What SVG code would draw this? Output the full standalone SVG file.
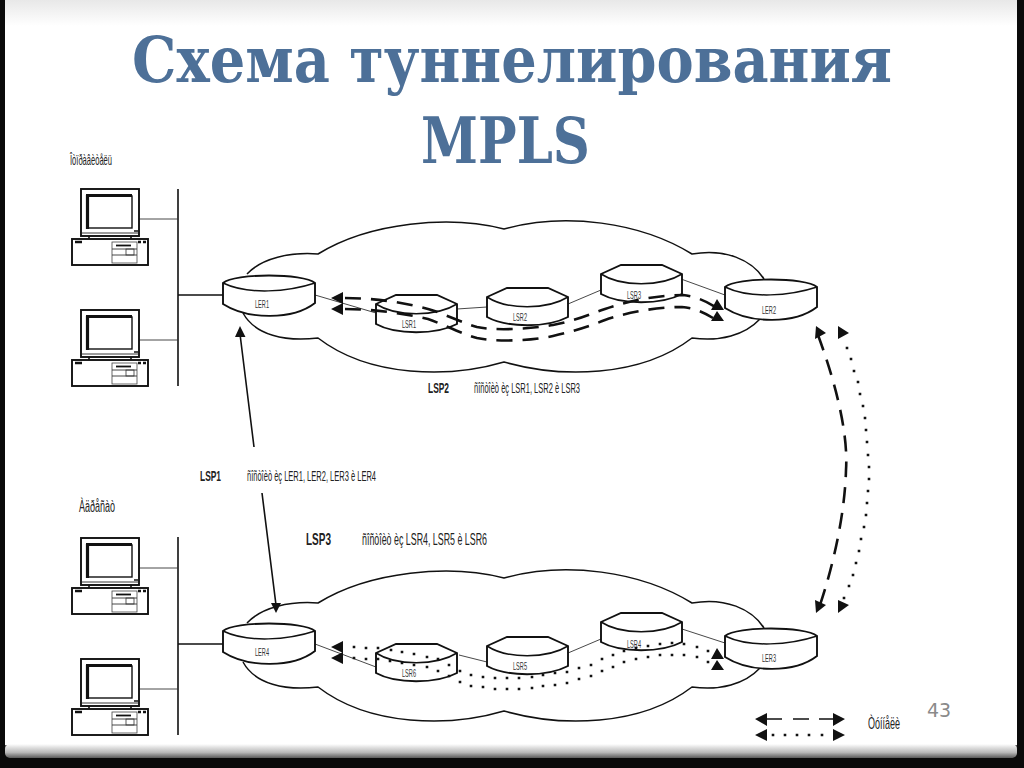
<svg xmlns="http://www.w3.org/2000/svg" width="1024" height="768" viewBox="0 0 1024 768">
<style>
.t{font-family:"Liberation Sans",Arial,sans-serif;fill:#222}
.small{font-size:11px;fill:#333}
.b{font-weight:bold}
.o{fill:none;stroke:#111;stroke-width:1.5}
.w{fill:#fff;stroke:#111;stroke-width:1.9}
.thin{fill:none;stroke:#333;stroke-width:.9}
.ln{fill:none;stroke:#111;stroke-width:1.6}
.dash{fill:none;stroke:#111;stroke-width:2.6;stroke-dasharray:16 10}
.dot{fill:none;stroke:#111;stroke-width:2.6;stroke-linecap:square}
.ah{fill:#111}
.h{font-family:"DejaVu Serif","Liberation Serif",serif;font-size:63px;font-weight:bold;fill:#4d7098}
</style>
<defs>
<linearGradient id="top" x1="0" y1="0" x2="0" y2="1"><stop offset="0" stop-color="#e8e8e8"/><stop offset="1" stop-color="#fff"/></linearGradient>
<linearGradient id="bot" x1="0" y1="0" x2="0" y2="1"><stop offset="0" stop-color="#fff"/><stop offset=".25" stop-color="#e0e0e0"/><stop offset=".6" stop-color="#b8b8b8"/><stop offset="1" stop-color="#5a5a5a"/></linearGradient>
<g id="pc">
<rect x="21" y="0" width="58" height="47" class="w"/>
<path d="M21 44H79" stroke="#222" stroke-width=".9"/>
<rect x="27" y="7" width="45" height="32" fill="#fff" stroke="#111" stroke-width="1.4"/>
<path d="M27.500 6V40M26 6.500H72" stroke="#111" stroke-width="3.200" fill="none"/>
<path d="M74 42h4" stroke="#111" stroke-width="1.500"/>
<path d="M29 47v3M71 47v3" stroke="#111" stroke-width="1.600"/>
<rect x="12" y="50" width="76" height="26" class="w"/>
<path d="M15 53h7M78 53h3M83 53h3" stroke="#111" stroke-width="2.400"/>
<rect x="52" y="53" width="25" height="21" fill="#fff" stroke="#444" stroke-width=".8"/>
<path d="M52 60h25M52 66h25" stroke="#333" stroke-width=".9"/>
<path d="M56 56.500h15" stroke="#111" stroke-width="1.800"/>
<rect x="66" y="60" width="8" height="6" fill="none" stroke="#333" stroke-width=".8"/>
</g>
<g id="ler">
<path class="w" d="M0 8C12 -2 80 -2 92 8V28C70 45 25 45 0 29Z"/>
<path class="o" d="M0 8C25 20 65 17 92 8"/>
</g>
<g id="lsr">
<path class="w" d="M0 9L20 0H61L81 9V29C60 40 20 40 0 29Z"/>
<path class="o" d="M0 9C20 22 60 22 81 9"/>
</g>
<path id="cloud" class="o" d="M247 274C262 258 290 252 318 254C370 222 450 215 504 229C565 212 640 222 692 254C725 248 752 260 764 279M760 319C745 335 720 342 692 338C640 378 560 378 504 362C450 378 370 378 318 338C285 342 255 335 243 313"/>
</defs>

<rect width="1024" height="768" fill="#0a0a0a"/>
<rect x="5" y="700" width="1012" height="58" rx="7" fill="#5a5a5a"/>
<rect x="5" y="0" width="1012" height="745" fill="#fff"/>
<rect x="5" y="744" width="1012" height="14" rx="5" fill="url(#bot)"/>
<rect x="5" y="0" width="1012" height="26" fill="url(#top)"/>

<g id="title">
<text class="h" x="132" y="82" textLength="760" lengthAdjust="spacingAndGlyphs">Схема туннелирования</text>
<text class="h" x="421" y="163" textLength="169" lengthAdjust="spacingAndGlyphs">MPLS</text>
</g>

<g id="clouds">
<use href="#cloud"/>
<use href="#cloud" y="349"/>
</g>

<g id="links">
<path class="ln" d="M178 189V386M178 537V735M178 295H223M178 644H223"/>
<path class="thin" d="M139 219H178M139 340H178M139 568H178M139 689H178"/>
<path class="thin" d="M315 295L376 313M457 309L487 307M568 304L601 290M681 279L725 295M315 644L376 667M459 655L487 662M568 653L601 639M682 629L725 643"/>
</g>

<g id="pcs">
<use href="#pc" x="60" y="189"/>
<use href="#pc" x="60" y="310"/>
<use href="#pc" x="60" y="538"/>
<use href="#pc" x="60" y="659"/>
</g>

<g id="LER1"><use href="#ler" x="223" y="275"/><text class="t small" x="255" y="308" textLength="14" lengthAdjust="spacingAndGlyphs">LER1</text></g>
<g id="LER2"><use href="#ler" x="725" y="279"/><text class="t small" x="762" y="314" textLength="14" lengthAdjust="spacingAndGlyphs">LER2</text></g>
<g id="LER3"><use href="#ler" x="725" y="628"/><text class="t small" x="762" y="662" textLength="14" lengthAdjust="spacingAndGlyphs">LER3</text></g>
<g id="LER4"><use href="#ler" x="223" y="623"/><text class="t small" x="255" y="656" textLength="14" lengthAdjust="spacingAndGlyphs">LER4</text></g>
<g id="LSR1"><use href="#lsr" x="376" y="295"/><text class="t small" x="402" y="328" textLength="14" lengthAdjust="spacingAndGlyphs">LSR1</text></g>
<g id="LSR2"><use href="#lsr" x="487" y="288"/><text class="t small" x="513" y="321" textLength="14" lengthAdjust="spacingAndGlyphs">LSR2</text></g>
<g id="LSR3"><use href="#lsr" x="601" y="265"/><text class="t small" x="627" y="299" textLength="14" lengthAdjust="spacingAndGlyphs">LSR3</text></g>
<g id="LSR4"><use href="#lsr" x="601" y="613"/><text class="t small" x="627" y="648" textLength="14" lengthAdjust="spacingAndGlyphs">LSR4</text></g>
<g id="LSR5"><use href="#lsr" x="487" y="637"/><text class="t small" x="513" y="670" textLength="14" lengthAdjust="spacingAndGlyphs">LSR5</text></g>
<g id="LSR6"><use href="#lsr" x="376" y="644"/><text class="t small" x="402" y="677" textLength="14" lengthAdjust="spacingAndGlyphs">LSR6</text></g>

<g id="connectors">
<path class="dash" d="M345 298C372 298 402 302 428 309C440 312 465 324 477 327C495 331 530 329 553 325C575 321 590 314 605 309C625 302 655 295 683 295C695 296 708 302 717 308"/>
<path class="dash" d="M345 309C372 309 402 313 428 319C440 323 465 335 477 338C495 342 530 341 553 336C575 331 590 326 605 320C625 313 655 307 682 307C695 308 705 313 713 318"/>
<path class="dot" d="M354 647h0M366 648h0M378 648h0M391 650h0M402 652h0M414 654h0M427 657h0M438 659h0M449 665h0M460 671h0M471 675h0M483 677h0M495 678h0M507 678h0M519 678h0M532 677h0M543 675h0M555 673h0M567 672h0M579 668h0M591 665h0M602 659h0M613 655h0M624 651h0M636 648h0M648 646h0M660 644h0M672 643h0M684 644h0M697 647h0M708 651h0"/>
<path class="dot" d="M354 658h0M366 659h0M378 659h0M390 661h0M402 663h0M414 665h0M427 667h0M438 671h0M449 676h0M460 682h0M471 686h0M483 687h0M495 689h0M507 689h0M519 689h0M532 688h0M543 686h0M555 685h0M567 683h0M579 679h0M591 676h0M602 671h0M613 667h0M624 662h0M636 659h0M648 657h0M660 655h0M672 655h0M684 655h0M697 657h0M708 662h0"/>
<path class="ln" d="M254 447L240 334M262 493L276 605"/>
<path class="dash" stroke-dasharray="16 11" d="M818 335C840 395 848 440 846 470C845 510 835 560 820 605"/>
<path class="dot" d="M847 348h0M851 359h0M854 371h0M858 382h0M860 394h0M863 406h0M865 418h0M866 430h0M867 442h0M868 455h0M869 467h0M869 479h0M868 491h0M867 503h0M866 515h0M864 527h0M861 539h0M859 551h0M856 563h0M853 575h0M849 586h0M844 598h0"/>
<path class="ah" d="M331 298L343 292V304ZM331 309L343 303V315Z"/>
<path class="ah" d="M717 299L711 310H724ZM717 311L711 321H724Z"/>
<path class="ah" d="M331 647L343 641V653ZM331 658L343 652V664Z"/>
<path class="ah" d="M717 648L711 659H724ZM717 660L711 670H724Z"/>
<path class="ah" d="M240 326L235 337H245.500ZM276 613L271 603H281Z"/>
<path class="ah" d="M816 326L826 333L815 339ZM838 326L849 333L838 339Z"/>
<path class="ah" d="M816 613L815 600L826 605ZM838 613L838 600L849 605Z"/>
<path class="ln" stroke-width="2.600" d="M765 719H782M793 719H809M819 719H835"/>
<path class="dot" d="M773 735h0M785 735h0M797 735h0M809 735h0M822 735h0"/>
<path class="ah" d="M755 719L767 713V726ZM845 719L833 713V726ZM755 735L767 729V741ZM845 735L833 729V741Z"/>
</g>

<g id="labels">
<text class="t" font-size="15" x="70" y="165" textLength="42" lengthAdjust="spacingAndGlyphs">Îòïðàâèòåëü</text>
<text class="t" font-size="16" x="79" y="512" textLength="36" lengthAdjust="spacingAndGlyphs">Àäðåñàò</text>
<text class="t b" font-size="15" x="428" y="393" textLength="21" lengthAdjust="spacingAndGlyphs">LSP2</text>
<text class="t" font-size="15" x="474" y="393" textLength="106" lengthAdjust="spacingAndGlyphs">ñîñòîèò èç LSR1, LSR2 è LSR3</text>
<text class="t b" font-size="15" x="200" y="481" textLength="21" lengthAdjust="spacingAndGlyphs">LSP1</text>
<text class="t" font-size="15" x="247" y="481" textLength="129" lengthAdjust="spacingAndGlyphs">ñîñòîèò èç LER1, LER2, LER3 è LER4</text>
<text class="t b" font-size="17" x="306" y="545" textLength="25" lengthAdjust="spacingAndGlyphs">LSP3</text>
<text class="t" font-size="16" x="362" y="545" textLength="125" lengthAdjust="spacingAndGlyphs">ñîñòîèò èç LSR4, LSR5 è LSR6</text>
<text class="t" font-size="17" x="868" y="729" textLength="32" lengthAdjust="spacingAndGlyphs">Òóííåëè</text>
<text x="927" y="717" font-family="DejaVu Sans,sans-serif" font-size="19" fill="#8a8a8a">43</text>
</g>
</svg>
